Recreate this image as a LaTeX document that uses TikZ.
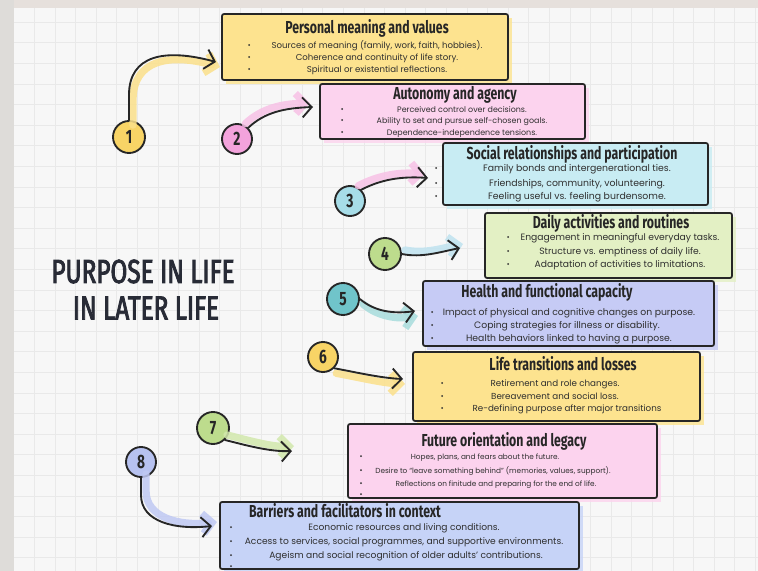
\documentclass[tikz,border=0pt]{standalone}
\usepackage{fontspec}
\setmainfont{Poppins}
\newfontfamily\headfont{Fira Sans}[FakeStretch=0.71]
\newfontfamily\bigfont{Fira Sans}[FakeStretch=0.73,FakeBold=2.6]
\usetikzlibrary{arrows.meta}
\definecolor{ink}{HTML}{262626}
\definecolor{txt}{HTML}{2F2F2F}
\definecolor{bg}{HTML}{F7F7F7}
\definecolor{gridc}{HTML}{E9E9E9}
\definecolor{leftc}{HTML}{DEDCD9}
\definecolor{topc}{HTML}{E6E0DC}
\definecolor{titlec}{HTML}{282B36}
\definecolor{yelbox}{HTML}{FDE38F}\definecolor{yelhl}{HTML}{FBE08A}\definecolor{yelc}{HTML}{F8D466}
\definecolor{pinkbox}{HTML}{FCD3EE}\definecolor{pinkhl}{HTML}{F7C2E6}\definecolor{pinkc}{HTML}{F3A3DC}
\definecolor{bluebox}{HTML}{C8ECF3}\definecolor{bluehl}{HTML}{BFE3EF}\definecolor{bluec}{HTML}{A7DDE8}
\definecolor{greenbox}{HTML}{E3F0C4}\definecolor{greenhl}{HTML}{D2E8AC}\definecolor{greenc}{HTML}{BDDC8D}
\definecolor{lavbox}{HTML}{C6CBF5}\definecolor{tealhl}{HTML}{A8DCDC}\definecolor{tealc}{HTML}{70C4CA}
\definecolor{periwbox}{HTML}{C6D3F7}\definecolor{periwhl}{HTML}{BFC8F3}\definecolor{periwc}{HTML}{B7C2F0}
\newcommand\card[6]{%
  \fill[#6, opacity=0.8] (#2+4,#3+4) rectangle (#4+4,#5+4);
  \node[card, fill=#6, minimum width={(#4-#2)*0.75pt}, minimum height={(#5-#3)*0.75pt}] (#1) at ({(#2+#4)/2},{(#3+#5)/2}) {};
}
\begin{document}
\begin{tikzpicture}[x=0.75pt,y=-0.75pt,
  card/.style={draw=ink, line width=1.3pt, rounded corners=1.5pt, inner sep=0, outer sep=0},
  ttl/.style={anchor=mid, yshift=-1.5pt, inner sep=0, text=ink, font=\headfont\bfseries\fontsize{13}{13}\selectfont},
  bt/.style={anchor=mid, inner sep=0, text=txt, font=\fontsize{#1}{#1}\selectfont},
  bdot/.style={circle, fill=txt, inner sep=0, minimum size=1.5pt},
  num/.style={circle, draw=ink, line width=1.4pt, inner sep=0, minimum size=#1*1.5pt, text=ink, font=\headfont\bfseries\fontsize{14.5}{14.5}\selectfont},
  arr/.style={draw=ink, line width=1.4pt, line cap=round, line join=round, -{Straight Barb[length=7pt,width=15pt]}},
  hl/.style={line width=5.5pt, line cap=round, line join=round, opacity=0.85, -{Straight Barb[length=7pt,width=15pt]}},
  big/.style={inner sep=0, text=titlec, font=\bigfont\fontsize{25}{25}\selectfont}]
\useasboundingbox (0,0) rectangle (758,571);
\fill[bg] (0,0) rectangle (758,571);
\foreach \i in {0,...,36} \draw[gridc, line width=0.5pt] ({13.8+20.6*\i},8) -- ({13.8+20.6*\i},571);
\foreach \j in {1,...,27} \draw[gridc, line width=0.5pt] (14,{1.6+20.6*\j}) -- (758,{1.6+20.6*\j});
\fill[topc] (0,0) rectangle (758,8);
\fill[leftc] (0,0) rectangle (14,571);

% title
\node[big] (title1) at (143,271.5) {PURPOSE IN LIFE};
\node[big] (title2) at (146,308) {IN LATER LIFE};

% cards
\card{b1}{222}{14}{508}{80}{yelbox}
\node[ttl] (b1t) at (367,28) {Personal meaning and values};
\foreach \yy/\nm in {45/a,57/b,69/c} \node[bdot] (b1d\nm) at (249,\yy) {};
\node[bt=6.45] (b1a) at (377,45) {Sources of meaning (family, work, faith, hobbies).};
\node[bt=6.45] (b1b) at (377,57) {Coherence and continuity of life story.};
\node[bt=6.45] (b1c) at (377,69) {Spiritual or existential reflections.};

\card{b2}{320}{84}{585}{139}{pinkbox}
\node[ttl] (b2t) at (455,94) {Autonomy and agency};
\foreach \yy/\nm in {109/a,120/b,132/c} \node[bdot] (b2d\nm) at (342,\yy) {};
\node[bt=5.95] (b2a) at (462,109) {Perceived control over decisions.};
\node[bt=5.95] (b2b) at (462,120) {Ability to set and pursue self-chosen goals.};
\node[bt=5.95] (b2c) at (462,132) {Dependence-independence tensions.};

\card{b3}{443}{143}{708}{205}{bluebox}
\node[ttl] (b3t) at (572,154) {Social relationships and participation};
\foreach \yy/\nm in {168/a,183/b,196/c} \node[bdot] (b3d\nm) at (436,\yy) {};
\node[bt=7.0] (b3a) at (577,168) {Family bonds and intergenerational ties.};
\node[bt=7.0] (b3b) at (577,183) {Friendships, community, volunteering.};
\node[bt=7.0] (b3c) at (577,196) {Feeling useful vs. feeling burdensome.};

\card{b4}{485}{213}{732}{278}{greenbox}
\node[ttl] (b4t) at (611,223) {Daily activities and routines};
\foreach \yy/\nm in {237/a,251/b,264/c} \node[bdot] (b4d\nm) at (508,\yy) {};
\node[bt=6.9] (b4a) at (620,237) {Engagement in meaningful everyday tasks.};
\node[bt=6.9] (b4b) at (620,251) {Structure vs. emptiness of daily life.};
\node[bt=6.9] (b4c) at (620,264) {Adaptation of activities to limitations.};

\card{b5}{423}{281}{714}{346}{lavbox}
\node[ttl] (b5t) at (547,292) {Health and functional capacity};
\foreach \yy/\nm in {312/a,325/b,338/c} \node[bdot] (b5d\nm) at (432,\yy) {};
\node[bt=6.95] (b5a) at (569,312) {Impact of physical and cognitive changes on purpose.};
\node[bt=6.95] (b5b) at (567,325) {Coping strategies for illness or disability.};
\node[bt=6.95] (b5c) at (569,338) {Health behaviors linked to having a purpose.};

\card{b6}{413}{352}{700}{421}{yelbox}
\node[ttl] (b6t) at (563,365) {Life transitions and losses};
\foreach \yy/\nm in {383/a,396/b,408/c} \node[bdot] (b6d\nm) at (442,\yy) {};
\node[bt=6.55] (b6a) at (555,383) {Retirement and role changes.};
\node[bt=6.55] (b6b) at (555,396) {Bereavement and social loss.};
\node[bt=6.55] (b6c) at (567,408) {Re-defining purpose after major transitions};

\card{b7}{348}{424}{657}{498}{pinkbox}
\node[ttl] (b7t) at (504,441) {Future orientation and legacy};
\foreach \yy/\nm in {456/a,470/b,483/c,494/d} \node[bdot] (b7d\nm) at (361,\yy) {};
\node[bt=5.5] (b7a) at (485,456) {Hopes, plans, and fears about the future.};
\node[bt=5.5] (b7b) at (493,470) {Desire to “leave something behind” (memories, values, support).};
\node[bt=5.5] (b7c) at (496,483) {Reflections on finitude and preparing for the end of life.};

\card{b8}{220}{502}{579}{569}{periwbox}
\node[ttl] (b8t) at (345,512) {Barriers and facilitators in context};
\foreach \yy/\nm in {527/a,541/b,555/c,566/d} \node[bdot] (b8d\nm) at (231,\yy) {};
\node[bt=6.85] (b8a) at (404,527) {Economic resources and living conditions.};
\node[bt=6.85] (b8b) at (404,541) {Access to services, social programmes, and supportive environments.};
\node[bt=6.85] (b8c) at (406,555) {Ageism and social recognition of older adults’ contributions.};

% number circles
\node[num=16, fill=yelc] (c1) at (129,137) {1};
\node[num=15, fill=pinkc] (c2) at (237,139) {2};
\node[num=15, fill=bluec] (c3) at (350,201) {3};
\node[num=16, fill=greenc] (c4) at (385,254) {4};
\node[num=16, fill=tealc] (c5) at (343,299) {5};
\node[num=15, fill=yelc] (c6) at (323,357) {6};
\node[num=16, fill=greenc] (c7) at (213,428) {7};
\node[num=15, fill=periwc] (c8) at (141,462) {8};

% arrow ends
\coordinate (a1) at (216,62);
\coordinate (a2) at (313,107);
\coordinate (a3) at (428,178);
\coordinate (a4) at (460,248);
\coordinate (a5) at (415,311);
\coordinate (a6) at (403,379);
\coordinate (a7) at (292,451);
\coordinate (a8) at (212,526);

% highlights
\draw[hl, yelhl, transform canvas={shift={(4,5)}}] (c1.north) -- (129,95) .. controls (129,55) and (165,48) .. (a1);
\draw[hl, pinkhl, transform canvas={shift={(-3,-4)}}] (c2.north east) .. controls (265,112) and (285,108) .. (a2);
\draw[hl, pinkhl, transform canvas={shift={(-3,-4)}}] (c3.north east) .. controls (380,180) and (400,176) .. (a3);
\draw[hl, bluehl, transform canvas={shift={(3,-4)}}] (c4.east) .. controls (422,258) and (440,252) .. (a4);
\draw[hl, tealhl, transform canvas={shift={(3,5)}}] (c5.east) .. controls (375,312) and (395,314) .. (a5);
\draw[hl, yelhl, transform canvas={shift={(2,5)}}] (c6.south east) .. controls (355,372) and (380,378) .. (a6);
\draw[hl, greenhl, transform canvas={shift={(2,-5)}}] (c7.south east) .. controls (245,445) and (270,452) .. (a7);
\draw[hl, periwhl, transform canvas={shift={(5,-4)}}] (c8.south) -- (141,495) .. controls (141,522) and (175,530) .. (a8);

% arrows
\draw[arr] (c1.north) -- (129,95) .. controls (129,55) and (165,48) .. (a1);
\draw[arr] (c2.north east) .. controls (265,112) and (285,108) .. (a2);
\draw[arr] (c3.north east) .. controls (380,180) and (400,176) .. (a3);
\draw[arr] (c4.east) .. controls (422,258) and (440,252) .. (a4);
\draw[arr] (c5.east) .. controls (375,312) and (395,314) .. (a5);
\draw[arr] (c6.south east) .. controls (355,372) and (380,378) .. (a6);
\draw[arr] (c7.south east) .. controls (245,445) and (270,452) .. (a7);
\draw[arr] (c8.south) -- (141,495) .. controls (141,522) and (175,530) .. (a8);
\end{tikzpicture}
\end{document}
